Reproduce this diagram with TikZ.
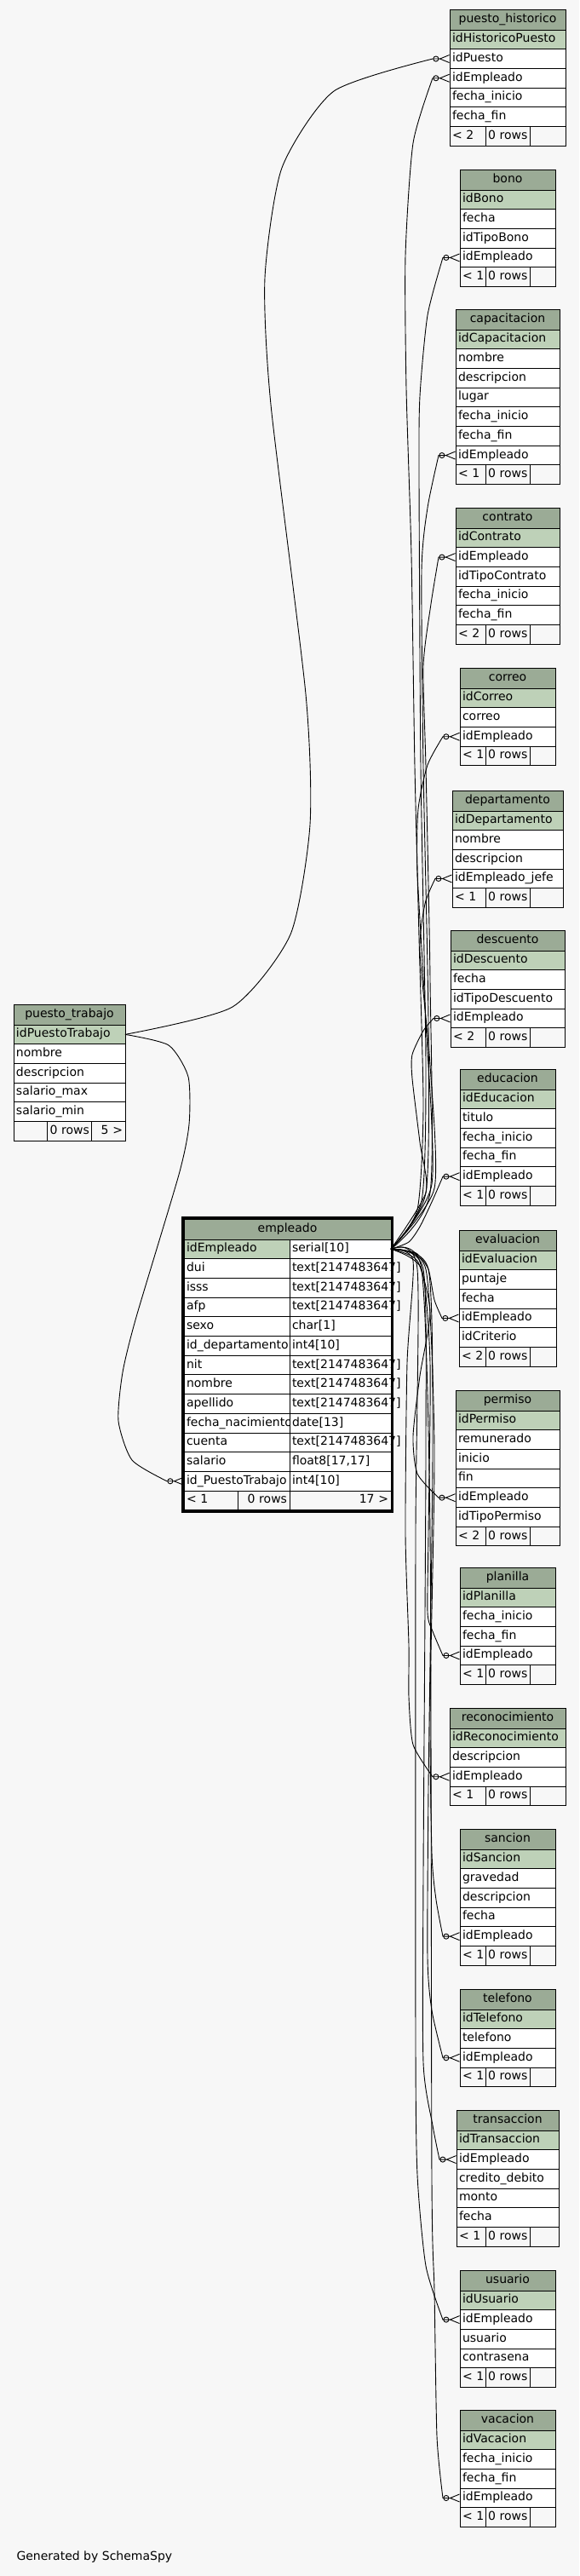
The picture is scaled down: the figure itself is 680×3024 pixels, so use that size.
\documentclass[tikz,border=0pt]{standalone}
\usepackage{fontspec}
\setmainfont{DejaVu Sans}
\usetikzlibrary{arrows.meta,positioning}

\definecolor{schemabg}{HTML}{F7F7F7}
\definecolor{schemahead}{HTML}{9BAB96}
\definecolor{schemapk}{HTML}{BED1B8}

% #1 name, #2 x, #3 y, #4 width, #5 title, #6 key, #7 columns, #8/#9 footer
\newcommand{\dbtable}[9]{%
  \pgfmathsetmacro{\tw}{#4-6}
  \pgfmathsetmacro{\fw}{(#4-52)/2-6}
  \node[thead, text width=\tw pt, anchor=north west] (#1) at (#2,#3) {#5};
  \node[tpk, text width=\tw pt, below=0pt of #1] (#1-0) {#6};
  \foreach \c [count=\i, remember=\i as \j (initially 0)] in {#7}
    {\node[trow, text width=\tw pt, below=0pt of #1-\j] (#1-\i) {\c};
     \xdef\tlast{\i}}
  \node[tfoot, text width=\fw pt, anchor=north west] (#1-fl) at (#1-\tlast.south west) {\mbox{#8}};
  \node[tfoot, text width=46pt, right=0pt of #1-fl] (#1-fm) {\mbox{0 rows}};
  \node[tfoot, text width=\fw pt, align=right, right=0pt of #1-fm] (#1-fr) {\mbox{#9}};
}

\begin{document}
\begin{tikzpicture}[x=1pt, y=-1pt,
    cell/.style={rectangle, draw, line width=0.9pt, inner xsep=3pt, inner ysep=0pt, outer sep=0pt,
      minimum height=22.7pt, text height=10pt, text depth=3pt, align=left, font=\fontsize{14}{16}\selectfont},
    thead/.style={cell, fill=schemahead, minimum height=24pt, align=center},
    tpk/.style={cell, fill=schemapk},
    trow/.style={cell, fill=white},
    tfoot/.style={cell, fill=schemabg},
    fk/.style={line width=0.9pt, -{Circle[open,length=7pt,width=7pt]Straight Barb[reversed,length=11pt,width=9pt]}}
]
\fill[schemabg] (0,0) rectangle (680,3024);
\useasboundingbox (0,0) rectangle (680,3024);

\dbtable{ph}{528}{11}{136}{puesto\_historico}{idHistoricoPuesto}{idPuesto,idEmpleado,fecha\_inicio,fecha\_fin}{< 2}{}
\dbtable{bo}{540}{199}{112}{bono}{idBono}{fecha,idTipoBono,idEmpleado}{< 1}{}
\dbtable{ca}{535}{363}{122}{capacitacion}{idCapacitacion}{nombre,descripcion,lugar,fecha\_inicio,fecha\_fin,idEmpleado}{< 1}{}
\dbtable{co}{535}{596}{122}{contrato}{idContrato}{idEmpleado,idTipoContrato,fecha\_inicio,fecha\_fin}{< 2}{}
\dbtable{cr}{540}{784}{112}{correo}{idCorreo}{correo,idEmpleado}{< 1}{}
\dbtable{de}{531}{928}{130}{departamento}{idDepartamento}{nombre,descripcion,idEmpleado\_jefe}{< 1}{}
\dbtable{ds}{529}{1092}{134}{descuento}{idDescuento}{fecha,idTipoDescuento,idEmpleado}{< 2}{}
\dbtable{ed}{540}{1255}{112}{educacion}{idEducacion}{titulo,fecha\_inicio,fecha\_fin,idEmpleado}{< 1}{}
\dbtable{ev}{539}{1444}{114}{evaluacion}{idEvaluacion}{puntaje,fecha,idEmpleado,idCriterio}{< 2}{}
\dbtable{pe}{535}{1632}{122}{permiso}{idPermiso}{remunerado,inicio,fin,idEmpleado,idTipoPermiso}{< 2}{}
\dbtable{pl}{540}{1840}{112}{planilla}{idPlanilla}{fecha\_inicio,fecha\_fin,idEmpleado}{< 1}{}
\dbtable{re}{528}{2005}{136}{reconocimiento}{idReconocimiento}{descripcion,idEmpleado}{< 1}{}
\dbtable{sa}{540}{2147}{112}{sancion}{idSancion}{gravedad,descripcion,fecha,idEmpleado}{< 1}{}
\dbtable{te}{540}{2335}{112}{telefono}{idTelefono}{telefono,idEmpleado}{< 1}{}
\dbtable{tr}{536}{2477}{120}{transaccion}{idTransaccion}{idEmpleado,credito\_debito,monto,fecha}{< 1}{}
\dbtable{us}{540}{2665}{112}{usuario}{idUsuario}{idEmpleado,usuario,contrasena}{< 1}{}
\dbtable{va}{540}{2829}{112}{vacacion}{idVacacion}{fecha\_inicio,fecha\_fin,idEmpleado}{< 1}{}
\dbtable{pt}{16}{1179}{131}{puesto\_trabajo}{idPuestoTrabajo}{nombre,descripcion,salario\_max,salario\_min}{}{5 >}

% empleado
\node[thead, text width=237pt, anchor=north west] (em) at (216,1431) {empleado};
\node[tpk, text width=118pt, anchor=north west] (em-0) at (em.south west) {idEmpleado};
\node[trow, text width=113pt, right=0pt of em-0] (em-t0) {serial[10]};
\foreach \n/\t [count=\i, remember=\i as \j (initially 0)] in {dui/text[2147483647], isss/text[2147483647],
    afp/text[2147483647], sexo/char[1], id\_departamento/int4[10], nit/text[2147483647],
    nombre/text[2147483647], apellido/text[2147483647], fecha\_nacimiento/date[13],
    cuenta/text[2147483647], salario/float8[17{,}17], id\_PuestoTrabajo/int4[10]}
  {\node[trow, text width=118pt, below=0pt of em-\j] (em-\i) {\n};
   \node[trow, text width=113pt, right=0pt of em-\i] (em-t\i) {\t};}
\node[tfoot, text width=57pt, anchor=north west] (em-fl) at (em-12.south west) {\mbox{< 1}};
\node[tfoot, text width=55pt, align=right, right=0pt of em-fl] (em-fm) {\mbox{0 rows}};
\node[tfoot, text width=113pt, align=right, right=0pt of em-fm] (em-fr) {\mbox{17 >}};
\draw[line width=3pt] ([shift={(-1.5pt,1.5pt)}]em.north west) rectangle ([shift={(1.5pt,-1.5pt)}]em-fr.south east);

% puesto_trabajo links
\draw[fk] plot[smooth, tension=0.4] coordinates {(pt-0.east) (273,1182) (341,1097) (364,968) (359,815) (318,475) (311,326) (331,197) (392,107) ([xshift=-20pt]ph-1.west)} -- (ph-1.west);
\draw[fk] plot[smooth, tension=0.4] coordinates {(pt-0.east) (198,1227) (221,1264) (222,1320) (210,1379) (160,1546) (144,1611) (139,1668) (155,1714) ([xshift=-20pt]em-12.west)} -- (em-12.west);

% empleado links
\draw[fk] plot[smooth, tension=0.4] coordinates {(em-t0.east) (490,1420) (497,1300) (492,1100) (487,900) (483,652) (477,456) (476,300) (485,168) ([xshift=-20pt]ph-2.west)} -- (ph-2.west);
\draw[fk] plot[smooth, tension=0.4] coordinates {(em-t0.east) (495,1410) (500,1250) (494,900) (492,559) (493,465) (502,370) ([xshift=-20pt]bo-3.west)} -- (bo-3.west);
\draw[fk] plot[smooth, tension=0.4] coordinates {(em-t0.east) (500,1400) (503,1200) (497,900) (495,670) (502,596) ([xshift=-20pt]ca-6.west)} -- (ca-6.west);
\draw[fk] plot[smooth, tension=0.4] coordinates {(em-t0.east) (505,1400) (505,1150) (500,900) (497,782) (506,709) ([xshift=-20pt]co-1.west)} -- (co-1.west);
\draw[fk] plot[smooth, tension=0.4] coordinates {(em-t0.east) (507,1390) (500,1200) (490,1024) (491,950) (502,898) ([xshift=-20pt]cr-2.west)} -- (cr-2.west);
\draw[fk] plot[smooth, tension=0.4] coordinates {(em-t0.east) (510,1395) (505,1250) (493,1117) (499,1061) ([xshift=-20pt]de-3.west)} -- (de-3.west);
\draw[fk] plot[smooth, tension=0.4] coordinates {(em-t0.east) (500,1400) (493,1341) (484,1266) (484,1238) (497,1210) ([xshift=-20pt]ds-3.west)} -- (ds-3.west);
\draw[fk] plot[smooth, tension=0.4] coordinates {(em-t0.east) (480,1458) (493,1440) (507,1411) ([xshift=-20pt]ed-4.west)} -- (ed-4.west);
\draw[fk] plot[smooth, tension=0.4] coordinates {(em-t0.east) (480,1469) (490,1472) (503,1490) (510,1526) ([xshift=-20pt]ev-3.west)} -- (ev-3.west);
\draw[fk] plot[smooth, tension=0.4] coordinates {(em-t0.east) (490,1480) (505,1540) (493,1615) (485,1686) (490,1730) ([xshift=-20pt]pe-4.west)} -- (pe-4.west);
\draw[fk] plot[smooth, tension=0.4] coordinates {(em-t0.east) (495,1490) (505,1600) (503,1800) (502,1893) (508,1915) ([xshift=-20pt]pl-3.west)} -- (pl-3.west);
\draw[fk] plot[smooth, tension=0.4] coordinates {(em-t0.east) (485,1480) (478,1600) (476,1800) (480,1931) (480,1992) (485,2048) ([xshift=-20pt]re-2.west)} -- (re-2.west);
\draw[fk] plot[smooth, tension=0.4] coordinates {(em-t0.east) (500,1490) (510,1700) (505,2000) (507,2175) (512,2230) ([xshift=-20pt]sa-4.west)} -- (sa-4.west);
\draw[fk] plot[smooth, tension=0.4] coordinates {(em-t0.east) (503,1490) (508,1700) (503,2100) (502,2298) (507,2360) ([xshift=-20pt]te-2.west)} -- (te-2.west);
\draw[fk] plot[smooth, tension=0.4] coordinates {(em-t0.east) (497,1490) (500,1700) (497,2200) (497,2421) (508,2495) ([xshift=-20pt]tr-1.west)} -- (tr-1.west);
\draw[fk] plot[smooth, tension=0.4] coordinates {(em-t0.east) (490,1490) (488,1800) (488,2400) (490,2553) (500,2660) ([xshift=-20pt]us-1.west)} -- (us-1.west);
\draw[fk] plot[smooth, tension=0.4] coordinates {(em-t0.east) (495,1490) (505,1800) (507,2558) (510,2689) (513,2860) ([xshift=-20pt]va-3.west)} -- (va-3.west);

\node[anchor=west, font=\fontsize{14}{16}\selectfont] (gen) at (16,3002) {Generated by SchemaSpy};
\end{tikzpicture}
\end{document}
